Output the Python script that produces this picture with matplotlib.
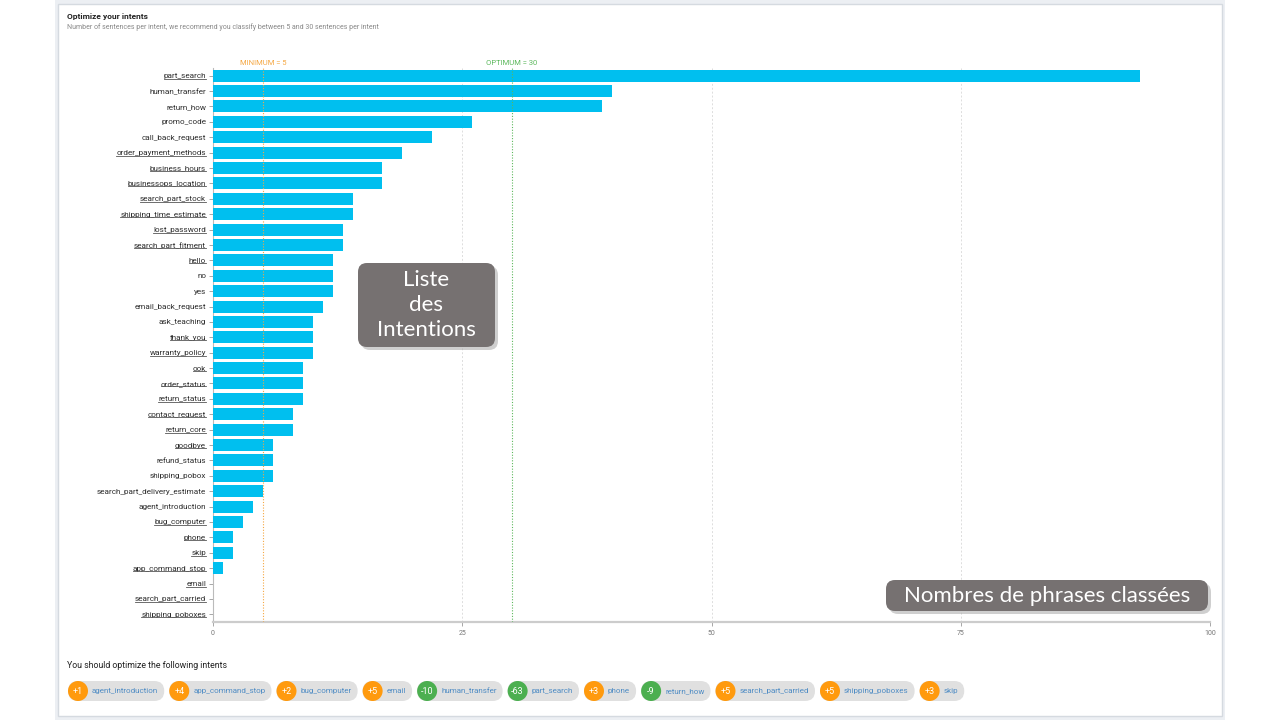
import matplotlib.pyplot as plt
from matplotlib.patches import FancyBboxPatch, Rectangle, Circle
from matplotlib.lines import Line2D

# Data
intents = [
    "part_search", "human_transfer", "return_how", "promo_code", "call_back_request",
    "order_payment_methods", "business_hours", "businessops_location", "search_part_stock",
    "shipping_time_estimate", "lost_password", "search_part_fitment", "hello", "no", "yes",
    "email_back_request", "ask_teaching", "thank_you", "warranty_policy", "ook",
    "order_status", "return_status", "contact_request", "return_core", "goodbye",
    "refund_status", "shipping_pobox", "search_part_delivery_estimate", "agent_introduction",
    "bug_computer", "phone", "skip", "app_command_stop", "email", "search_part_carried",
    "shipping_poboxes",
]
counts = [93, 40, 39, 26, 22, 19, 17, 17, 14, 14, 13, 13, 12, 12, 12, 11, 10, 10, 10, 9,
          9, 9, 8, 8, 6, 6, 6, 5, 4, 3, 2, 2, 1, 0, 0, 0]
underlined = [
    "part_search", "order_payment_methods", "business_hours", "businessops_location",
    "search_part_stock", "shipping_time_estimate", "lost_password", "search_part_fitment",
    "hello", "thank_you", "warranty_policy", "ook", "order_status", "return_status",
    "contact_request", "return_core", "goodbye", "bug_computer", "phone", "skip",
    "app_command_stop", "email", "search_part_carried", "shipping_poboxes",
]
x_ticks = [0, 25, 50, 75, 100]
minimum = 5
optimum = 30

W, H = 1280, 720
BAR = "#00bfef"
ORANGE = "#ff9a0e"
GREEN = "#4caf50"

fig = plt.figure(figsize=(12.8, 7.2), dpi=100)
fig.patch.set_facecolor("white")

# background / card (pixel coordinates)
bg = fig.add_axes([0, 0, 1, 1], zorder=-5)
bg.set_xlim(0, W)
bg.set_ylim(H, 0)
bg.axis("off")
bg.add_patch(Rectangle((55, 0), 1170, 720, facecolor="#eceff3", edgecolor="none"))
bg.add_patch(Rectangle((58, 4), 1164, 712, facecolor="white", edgecolor="#d5dae0", linewidth=1))

# main bar chart
ax = fig.add_axes([213 / W, 1 - 622 / H, (1210 - 213) / W, (622 - 68) / H])
ax.set_facecolor("none")
y = list(range(len(intents)))
ax.barh(y, counts, height=0.78, color=BAR, zorder=3)
ax.set_xlim(0, 100)
ax.set_ylim(len(intents) - 0.5, -0.5)
ax.set_yticks(y)
ax.set_yticklabels(intents, fontsize=5.9, color="#2e2e2e", family="Roboto")
ax.set_xticks(x_ticks)
ax.set_xticklabels([str(t) for t in x_ticks], fontsize=5, color="#777777", family="Roboto")
ax.tick_params(axis="y", length=3, width=0.6, color="#999999", pad=2)
ax.tick_params(axis="x", length=3, width=0.6, color="#999999", pad=3)
for s in ["top", "right"]:
    ax.spines[s].set_visible(False)
ax.spines["left"].set_color("#bbbbbb")
ax.spines["left"].set_linewidth(0.8)
ax.spines["bottom"].set_color("#cccccc")
ax.spines["bottom"].set_linewidth(1.6)
for t in x_ticks[1:]:
    ax.axvline(t, color="#dddddd", linestyle=(0, (2, 2)), linewidth=0.7, zorder=1)
ax.axvline(minimum, color="#f5a742", linestyle=(0, (1, 1.5)), linewidth=0.8, zorder=4)
ax.axvline(optimum, color="#5cb85c", linestyle=(0, (1, 1.5)), linewidth=0.8, zorder=4)
ax.text(minimum, -0.62, f"MINIMUM = {minimum}", ha="center", va="bottom", fontsize=5.5,
        color="#f5a742", family="Roboto")
ax.text(optimum, -0.62, f"OPTIMUM = {optimum}", ha="center", va="bottom", fontsize=5.5,
        color="#5cb85c", family="Roboto")

# overlay for titles, chips and callouts
ov = fig.add_axes([0, 0, 1, 1], zorder=10)
ov.set_xlim(0, W)
ov.set_ylim(H, 0)
ov.axis("off")
ov.patch.set_alpha(0)

ov.text(67, 17, "Optimize your intents", fontsize=6, fontweight="bold", color="#222222",
        family="Roboto", va="center")
ov.text(67, 27, "Number of sentences per intent, we recommend you classify between "
        f"{minimum} and {optimum} sentences per intent", fontsize=5, color="#888888",
        family="Roboto", va="center")
ov.text(67, 665, "You should optimize the following intents", fontsize=6.3, color="#222222",
        family="Roboto", va="center")


def callout(x0, y0, w, h, text, size, ls):
    ov.add_patch(FancyBboxPatch((x0 + 3, y0 + 3), w, h, boxstyle="round,pad=0,rounding_size=9",
                                facecolor="#b0b0b0", edgecolor="none", alpha=0.6))
    ov.add_patch(FancyBboxPatch((x0, y0), w, h, boxstyle="round,pad=0,rounding_size=9",
                                facecolor="#767171", edgecolor="none"))
    ov.text(x0 + w / 2, y0 + h / 2, text, ha="center", va="center", fontsize=size,
            color="white", family="Lato", linespacing=ls)


callout(358, 263, 137, 84, "Liste\ndes\nIntentions", 16, 1.3)
callout(886, 580, 322, 31, "Nombres de phrases classées", 16, 1.0)

fig.canvas.draw()
renderer = fig.canvas.get_renderer()

# underline some intent labels
for lbl in ax.get_yticklabels():
    if lbl.get_text() in underlined:
        bb = lbl.get_window_extent(renderer)
        yy = H - bb.y0 - 0.5
        ov.add_line(Line2D([bb.x0, bb.x1], [yy, yy], color="#555555", linewidth=0.6))

# chips with delta to reach the recommended range
chips = []
for name, c in sorted(zip(intents, counts)):
    if c < minimum:
        chips.append((f"+{minimum - c}", name, ORANGE))
    elif c > optimum:
        chips.append((f"-{c - optimum}", name, GREEN))

x = 68
cy = 691
r = 10
for num, name, col in chips:
    t = ov.text(x + 2 * r + 4, cy, name, fontsize=5.8, color="#4f8cc4", family="Roboto",
                va="center", ha="left")
    tw = t.get_window_extent(renderer).width
    w = 2 * r + 4 + tw + 6
    ov.add_patch(FancyBboxPatch((x, cy - r), w, 2 * r, boxstyle=f"round,pad=0,rounding_size={r}",
                                facecolor="#e0e0e0", edgecolor="none", zorder=1))
    ov.add_patch(Circle((x + r, cy), r, facecolor=col, edgecolor="none", zorder=2))
    ov.text(x + r, cy, num, fontsize=6.5, color="white", family="Roboto", ha="center",
            va="center", zorder=3)
    x += w + 5

fig.savefig("out.png", dpi=100)
